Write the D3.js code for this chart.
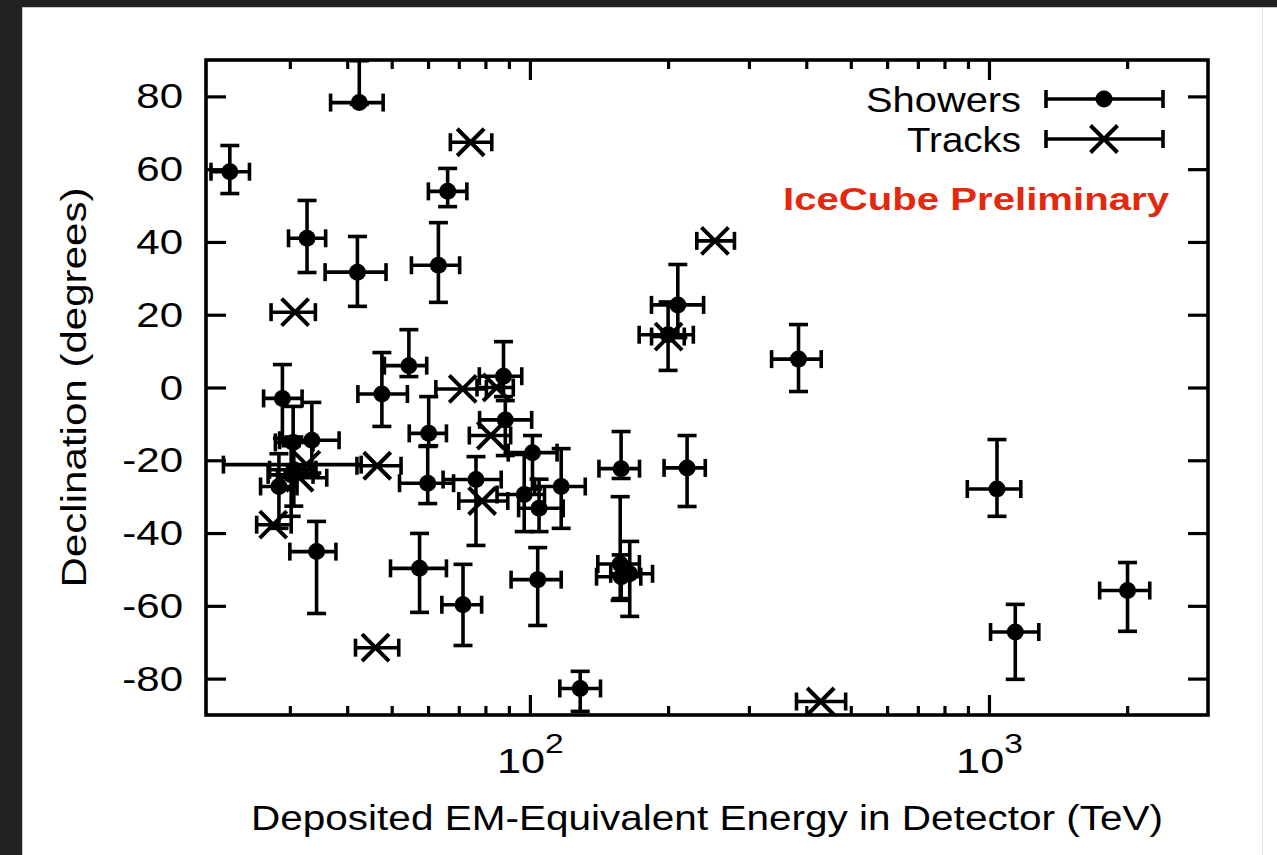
<!DOCTYPE html>
<html>
<head>
<meta charset="utf-8">
<script src="https://cdn.jsdelivr.net/npm/d3@7"></script>
<style>
  html, body { margin: 0; padding: 0; background: #222; }
  svg { display: block; }
  text { font-family: "Liberation Sans", Arial, Helvetica, sans-serif; fill: #000; }
</style>
</head>
<body>
<svg id="chart" width="1277" height="855"></svg>
<script>
// ---- Showers: deposited energy (TeV) with asymmetric errors, declination (deg) with bar extents
const showerEnergy      = [47.6, 117, 165, 28.4, 34.3, 63.2, 97.2, 88.4, 104, 1041, 57.5, 30.6, 200, 71.5, 1141, 30.2, 220, 30.5, 33.5, 210, 60.2, 32.7, 128.7, 42.5, 384.7, 42.1, 2003.7, 28.9, 101.3, 157.3, 87.6, 76.3, 158.0, 104.7, 59.9, 22.2, 66.2, 158.1, 54.5];
const showerEnergyErrLo = [5.4, 14.6, 15, 2.5, 4.3, 8.0, 12.4, 10.7, 13, 144, 7.8, 3.5, 27, 7.2, 133, 3.3, 24, 2.6, 5.0, 26, 5.6, 2.9, 12.5, 5.7, 48.6, 6.3, 261.5, 2.6, 11.6, 16.7, 10.0, 11.6, 16.6, 10.2, 7.9, 2.0, 6.1, 18.4, 6.3];
const showerEnergyErrHi = [6.5, 15, 20, 2.7, 3.5, 7.1, 10.4, 12.5, 13, 132, 8.3, 3.6, 27, 7.0, 143, 3.5, 21, 3.2, 4.9, 29, 5.6, 3.2, 13.8, 5.4, 46.4, 6.5, 236.2, 3.0, 13.3, 15.9, 8.4, 10.3, 15.3, 13.5, 8.3, 2.3, 6.7, 16.3, 5.1];
const showerDec         = [-1.8, -27.2, -51.2, -27.2, -45.1, 33.6, -29.4, -8.9, -52.8, -27.9, -49.7, -22.6, 14.5, -59.7, -67.2, -24.0, -22.1, -15.1, -14.5, 22.7, -12.6, 41.0, -82.7, 78.3, 7.8, 31.7, -55.8, -3.0, -17.9, -48.5, 3.1, -25.3, -22.3, -33.2, -26.3, 59.3, 53.9, -52.0, 6.0];
const showerDecErrLo    = [8.9, 11.5, 11.7, 11.5, 17, 10.2, 10.2, 9.8, 12.6, 7.5, 12.1, 10, 9.8, 11.2, 13, 11.4, 10.6, 9, 9, 9, 3.4, 9.4, 6.3, 0.5, 8.9, 9.4, 11.2, 11, 10, 10, 5.6, 18.1, 2.7, 6.4, 5.6, 6.0, 4.2, 6, 3];
const showerDecErrHi    = [11.4, 10.4, 8.9, 9, 8.3, 11.7, 11, 5.3, 8.8, 13.6, 9.6, 9, 9, 11.1, 7.6, 8, 8.9, 9.9, 10.4, 11.1, 10.1, 10.4, 4.7, 11.5, 9.5, 9.8, 7.7, 9.3, 4.7, 18.5, 9.5, 6.3, 10.2, 8, 10.1, 7.2, 6.3, 6, 9.9];

// ---- Tracks: deposited energy (TeV) with asymmetric errors, declination (deg)
const trackEnergy      = [78.7, 71.4, 32.6, 253, 31.5, 82.2, 46.1, 30.8, 200.5, 46.5, 84.6, 429.9, 74.3, 27.6];
const trackEnergyErrLo = [8.7, 9, 11.1, 22, 3.3, 8.4, 4.4, 3.5, 16.4, 4.5, 7.9, 49.1, 7.2, 2.2];
const trackEnergyErrHi = [10.8, 9, 10.3, 26, 4.6, 8.6, 5.7, 3.3, 16.4, 5.9, 7.4, 57.4, 8.3, 2.6];
const trackDec         = [-31.2, -0.4, -21.2, 40.3, -24.8, -13.2, -71.5, 20.7, 14.0, -21.5, 0.0, -86.3, 67.4, -37.7];

// ---- Axis ticks and labels
const yTicks = [-80, -60, -40, -20, 0, 20, 40, 60, 80];
const xMajorTicks = [100, 1000];
const xMinorTicks = [30, 40, 50, 60, 70, 80, 90, 200, 300, 400, 500, 600, 700, 800, 900, 2000];
const xTickBase = ["10", "10"];
const xTickExp = ["2", "3"];
const seriesNames = ["Showers", "Tracks"];
const xTitle = "Deposited EM-Equivalent Energy in Detector (TeV)";
const yTitle = "Declination (degrees)";
const stamp = "IceCube Preliminary";

// ---- Layout
const M = { left: 206, top: 60, right: 1208, bottom: 715 };
const LW = 3.6;          // error bar line width
const CAP_V = 9.5;       // half-width of caps on declination bars
const CAP_H = 9;         // half-height of caps on energy bars
const DOT_R = 8.5;
const CROSS = 13.5;
const TXT_SX = 1.2;      // horizontal stretch of the tick label font

const svg = d3.select("#chart");

// page background panel
svg.append("rect").attr("x", 22.5).attr("y", 7.5).attr("width", 1260).attr("height", 850)
  .attr("fill", "#fff").attr("stroke", "#c8c8c8").attr("stroke-width", 1);
svg.append("line").attr("x1", 1262.5).attr("x2", 1262.5).attr("y1", 8).attr("y2", 855)
  .attr("stroke", "#e6e6e6").attr("stroke-width", 1);

const x = d3.scaleLog().domain([19.7, 3000]).range([M.left, M.right]);
const y = d3.scaleLinear().domain([-90, 90]).range([M.bottom, M.top]);

function styleTicks(g) {
  g.select(".domain").remove();
  g.selectAll(".tick line").attr("stroke", "#000").attr("stroke-width", 3.2);
}

// bottom axis: major ticks with labels, minor ticks
const gxb = svg.append("g").attr("transform", `translate(0,${M.bottom})`)
  .call(d3.axisBottom(x).tickValues(xMajorTicks).tickSize(-20).tickSizeOuter(0).tickFormat(() => ""))
  .call(styleTicks);
gxb.attr("font-family", null);
gxb.selectAll(".tick text").each(function (d, i) {
  const t = d3.select(this);
  t.text(null).attr("y", 58).attr("dy", null).attr("font-size", 36)
    .attr("text-anchor", "middle").attr("transform", `scale(${TXT_SX},1)`)
    .attr("fill", "#000");
  t.append("tspan").text(xTickBase[i]);
  t.append("tspan").attr("font-size", 28).attr("dy", -20).text(xTickExp[i]);
});
svg.append("g").attr("transform", `translate(0,${M.bottom})`)
  .call(d3.axisBottom(x).tickValues(xMinorTicks).tickSize(-9).tickSizeOuter(0).tickFormat(() => ""))
  .call(styleTicks);

// top axis (mirror ticks)
svg.append("g").attr("transform", `translate(0,${M.top})`)
  .call(d3.axisTop(x).tickValues(xMajorTicks).tickSize(-20).tickSizeOuter(0).tickFormat(() => ""))
  .call(styleTicks);
svg.append("g").attr("transform", `translate(0,${M.top})`)
  .call(d3.axisTop(x).tickValues(xMinorTicks).tickSize(-9).tickSizeOuter(0).tickFormat(() => ""))
  .call(styleTicks);

// left axis with labels (plain hyphen-minus, as printed)
const gyl = svg.append("g").attr("transform", `translate(${M.left},0)`)
  .call(d3.axisLeft(y).tickValues(yTicks).tickSize(-20).tickSizeOuter(0).tickFormat(d => String(d)))
  .call(styleTicks);
gyl.attr("font-family", null);
gyl.selectAll(".tick text")
  .attr("font-size", 35).attr("fill", "#000")
  .attr("x", -23 / TXT_SX).attr("dy", "0.33em")
  .attr("transform", `scale(${TXT_SX},1)`);

// right axis (mirror ticks)
svg.append("g").attr("transform", `translate(${M.right},0)`)
  .call(d3.axisRight(y).tickValues(yTicks).tickSize(-20).tickSizeOuter(0).tickFormat(() => ""))
  .call(styleTicks);

// frame
svg.append("rect").attr("x", M.left).attr("y", M.top)
  .attr("width", M.right - M.left).attr("height", M.bottom - M.top)
  .attr("fill", "none").attr("stroke", "#000").attr("stroke-width", 3.6);

// axis titles
svg.append("text").attr("x", (M.left + M.right) / 2).attr("y", 830)
  .attr("text-anchor", "middle").attr("font-size", 35)
  .attr("textLength", 912).attr("lengthAdjust", "spacingAndGlyphs").text(xTitle);
svg.append("text").attr("transform", `translate(86,${(M.top + M.bottom) / 2}) rotate(-90)`)
  .attr("text-anchor", "middle").attr("font-size", 35)
  .attr("textLength", 400).attr("lengthAdjust", "spacingAndGlyphs").text(yTitle);

// data
svg.append("clipPath").attr("id", "plotClip").append("rect")
  .attr("x", M.left).attr("y", M.top).attr("width", M.right - M.left).attr("height", M.bottom - M.top);
const data = svg.append("g").attr("clip-path", "url(#plotClip)");

const showers = showerEnergy.map((e, i) => ({
  e, eLo: e - showerEnergyErrLo[i], eHi: e + showerEnergyErrHi[i],
  dec: showerDec[i], dLo: showerDec[i] - showerDecErrLo[i], dHi: showerDec[i] + showerDecErrHi[i]
}));
const tracks = trackEnergy.map((e, i) => ({
  e, eLo: e - trackEnergyErrLo[i], eHi: e + trackEnergyErrHi[i],
  dec: trackDec[i], dLo: trackDec[i], dHi: trackDec[i]
}));

function drawBars(g, d) {
  const cx = x(d.e), cy = y(d.dec);
  const x0 = x(d.eLo), x1 = x(d.eHi), y0 = y(d.dLo), y1 = y(d.dHi);
  const segs = [
    [x0, cy, x1, cy], [x0, cy - CAP_H, x0, cy + CAP_H], [x1, cy - CAP_H, x1, cy + CAP_H],
  ];
  if (d.dHi !== d.dLo) {
    segs.push([cx, y0, cx, y1], [cx - CAP_V, y0, cx + CAP_V, y0], [cx - CAP_V, y1, cx + CAP_V, y1]);
  }
  segs.forEach(s => g.append("line").attr("x1", s[0]).attr("y1", s[1]).attr("x2", s[2]).attr("y2", s[3])
    .attr("stroke", "#000").attr("stroke-width", LW));
}
function drawDot(g, cx, cy) {
  g.append("circle").attr("cx", cx).attr("cy", cy).attr("r", DOT_R).attr("fill", "#000");
}
function drawCross(g, cx, cy) {
  g.append("path").attr("d", `M${cx - CROSS},${cy - CROSS}L${cx + CROSS},${cy + CROSS}M${cx - CROSS},${cy + CROSS}L${cx + CROSS},${cy - CROSS}`)
    .attr("stroke", "#000").attr("stroke-width", 4).attr("fill", "none");
}

const gs = data.append("g");
showers.forEach(d => drawBars(gs, d));
showers.forEach(d => drawDot(gs, x(d.e), y(d.dec)));
const gt = data.append("g");
tracks.forEach(d => drawBars(gt, d));
tracks.forEach(d => drawCross(gt, x(d.e), y(d.dec)));

// legend
const legendY = [99, 139];
const legendTextLen = [155, 114];
const legend = svg.append("g");
seriesNames.forEach((name, i) => {
  const ly = legendY[i];
  legend.append("text").attr("x", 1021).attr("y", ly + 12.5).attr("text-anchor", "end")
    .attr("font-size", 35).attr("textLength", legendTextLen[i]).attr("lengthAdjust", "spacingAndGlyphs").text(name);
  [[1046, ly, 1163, ly], [1046, ly - CAP_H, 1046, ly + CAP_H], [1163, ly - CAP_H, 1163, ly + CAP_H]]
    .forEach(s => legend.append("line").attr("x1", s[0]).attr("y1", s[1]).attr("x2", s[2]).attr("y2", s[3])
      .attr("stroke", "#000").attr("stroke-width", LW));
  if (i === 0) drawDot(legend, 1104, ly); else drawCross(legend, 1104, ly);
});

// preliminary stamp
svg.append("text").attr("x", 1169).attr("y", 210).attr("text-anchor", "end")
  .attr("font-size", 31).attr("font-weight", "bold").style("fill", "#e3280e")
  .attr("textLength", 386).attr("lengthAdjust", "spacingAndGlyphs").text(stamp);
</script>
</body>
</html>
